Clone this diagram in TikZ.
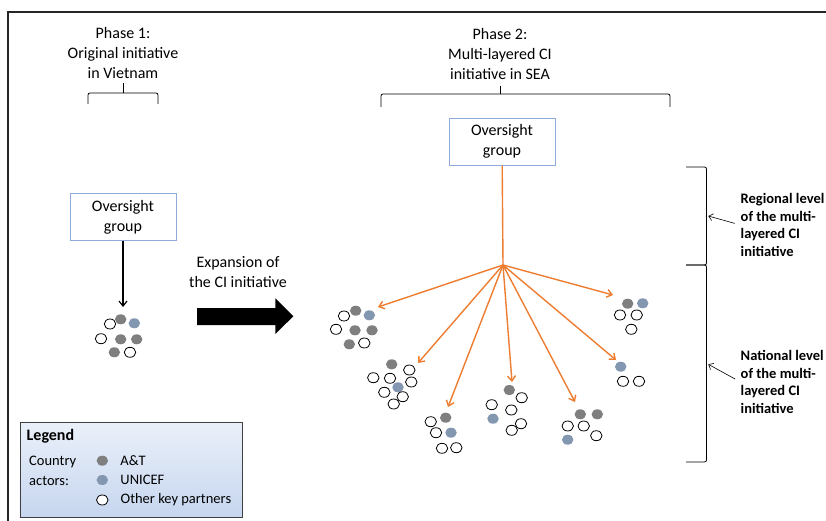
\documentclass[tikz,border=0pt]{standalone}
\usepackage{fontspec}
\setmainfont{Carlito}
\usetikzlibrary{arrows.meta,positioning,shapes.geometric}

\definecolor{atgrey}{HTML}{7F7F7F}
\definecolor{unicefblue}{HTML}{8497B0}
\definecolor{spokeorange}{HTML}{ED7D31}
\definecolor{boxblue}{HTML}{8EAADB}
\definecolor{legendtop}{HTML}{EAF0F9}
\definecolor{legendbottom}{HTML}{C6D6EF}

\begin{document}
\begin{tikzpicture}[x=1pt, y=-1pt,
    actor/.style={ellipse, inner sep=0pt, minimum width=11.5pt, minimum height=10pt},
    aandt/.style={actor, fill=atgrey},
    unicef/.style={actor, fill=unicefblue},
    partner/.style={actor, draw=black, line width=0.8pt, fill=white},
    oversight/.style={draw=boxblue, line width=1pt, minimum width=106pt,
                      minimum height=47pt, align=center, font=\fontsize{16}{20}\selectfont},
    phasetext/.style={align=center, font=\fontsize{16}{20}\selectfont},
    leveltext/.style={align=left, anchor=west, inner sep=0pt,
                      font=\bfseries\fontsize{14.5}{17.5}\selectfont},
    legendtext/.style={inner sep=0pt, font=\fontsize{14.5}{19.5}\selectfont},
    link/.style={-{Straight Barb[length=5pt,width=8pt]}, line width=1.2pt},
    spoke/.style={link, draw=spokeorange, line width=1.4pt},
    pointer/.style={-{Straight Barb[length=4pt,width=7pt]}, line width=0.6pt},
    bracket/.style={line width=0.8pt, rounded corners=2pt}]

  \useasboundingbox (0,0) rectangle (826,521);
  \draw[line width=1.3pt, black!85] (8,521) -- (8,12) -- (826,12);

  % phase headings and brackets
  \node[phasetext] (phase1) at (123,53) {Phase 1:\\Original initiative\\in Vietnam};
  \node[phasetext] (phase2) at (500,54) {Phase 2:\\Multi-layered CI\\initiative in SEA};
  \coordinate (br1) at (123,93);
  \coordinate (br2) at (500,94);
  \draw[bracket] (88,104) -- (88,93) -- (158,93) -- (158,104);
  \draw[line width=0.8pt] (br1) -- ++(0,-10);
  \draw[bracket] (381,107) -- (381,94) -- (670,94) -- (670,107);
  \draw[line width=0.8pt] (br2) -- ++(0,-8);

  % phase 1
  \node[oversight] (og1) at (123,217) {\raisebox{-2pt}{Oversight}\\\raisebox{-2pt}{group}};
  \coordinate (p1) at (123,307);
  \path (og1) edge [link] (p1);
  \foreach \x/\y/\s [count=\i] in {120.7/319.3/aandt, 110/324/partner, 134.3/323.3/unicef,
      101/338.7/partner, 120.7/339.3/aandt, 136.7/339.3/aandt, 114.3/352.3/aandt, 130/352.3/partner}
    \node[\s] (c0-\i) at (\x,\y) {};

  % expansion
  \node[phasetext] (expand) at (238,272) {Expansion of\\the CI initiative};
  \fill (197,308) -- (275.3,308) -- (275.3,298.3) -- (293.3,316.3) -- (275.3,334)
        -- (275.3,325) -- (197,325) -- cycle;

  % phase 2
  \node[oversight] (og2) at (502,141.7) {\raisebox{-2pt}{Oversight}\\\raisebox{-2pt}{group}};
  \coordinate (hub) at (503,265);
  \coordinate (t1) at (378,307);
  \coordinate (t2) at (418,363);
  \coordinate (t3) at (448,407);
  \coordinate (t4) at (512,382);
  \coordinate (t5) at (575,402);
  \coordinate (t6) at (616,360);
  \coordinate (t7) at (613,295);
  \draw[spokeorange, line width=1.4pt] (og2) -- (hub);
  \path (hub) edge [spoke] (t1)
              edge [spoke] (t2)
              edge [spoke] (t3)
              edge [spoke] (t4)
              edge [spoke] (t5)
              edge [spoke] (t6)
              edge [spoke] (t7);

  \foreach \x/\y/\s [count=\i] in {355.7/310.7/aandt, 369.3/315.3/unicef, 344/316/partner,
      336/329.3/partner, 355/330.3/aandt, 372/330.3/aandt, 349.3/344.3/aandt, 364.3/343/partner}
    \node[\s] (c1-\i) at (\x,\y) {};
  \foreach \x/\y/\s [count=\i] in {391.7/364.3/aandt, 409.3/370/partner, 373.3/377.7/partner,
      390/378.3/partner, 411.3/382/partner, 398/387.3/unicef, 384.3/392.3/partner,
      402.7/396.7/partner, 393.7/404/partner}
    \node[\s] (c2-\i) at (\x,\y) {};
  \foreach \x/\y/\s [count=\i] in {445.7/417.7/aandt, 430.7/421.7/partner, 436/432.7/partner,
      451/432.7/unicef, 442/448.3/partner, 456.3/447.7/partner}
    \node[\s] (c3-\i) at (\x,\y) {};
  \foreach \x/\y/\s [count=\i] in {509.3/390/aandt, 521.7/397.7/partner, 491.7/404.7/partner,
      511.3/410/partner, 493/418.7/unicef, 521/423.7/partner, 511.7/430.3/partner}
    \node[\s] (c4-\i) at (\x,\y) {};
  \foreach \x/\y/\s [count=\i] in {580.3/414.3/aandt, 597.3/414.3/aandt, 567.7/426/partner,
      583.7/426/partner, 596.3/435.7/partner, 567.7/439.7/unicef}
    \node[\s] (c5-\i) at (\x,\y) {};
  \foreach \x/\y/\s [count=\i] in {620.7/366.7/unicef, 623/381.3/partner, 639/381.3/partner}
    \node[\s] (c6-\i) at (\x,\y) {};
  \foreach \x/\y/\s [count=\i] in {627.7/303.7/aandt, 642.7/303.3/unicef, 620/315/partner,
      636.7/315/partner, 631.3/329.3/partner}
    \node[\s] (c7-\i) at (\x,\y) {};

  % levels
  \draw[bracket] (686,167) -- (706.5,167) -- (706.5,265) -- (686,265);
  \draw[bracket] (686,265) -- (706.5,265) -- (706.5,462) -- (686,462);
  \node[leveltext] (regional) at (740.5,225) {Regional level\\of the multi-\\layered CI\\initiative};
  \node[leveltext] (national) at (740.5,382) {National level\\of the multi-\\layered CI\\initiative};
  \coordinate (regbr) at (708.3,216);
  \coordinate (natbr) at (708.3,364.3);
  \path (regional.west) edge [pointer, shorten <=6pt] (regbr)
        (national.west) edge [pointer, shorten <=6pt] (natbr);

  % legend
  \node[draw=black!75, line width=0.8pt, top color=legendtop, bottom color=legendbottom,
        minimum width=222.7pt, minimum height=94.6pt] (legend) at (131.3,470) {};
  \node[anchor=west, inner sep=0pt, font=\bfseries\fontsize{16}{19}\selectfont] (lgtitle)
        at (26.5,436) {Legend};
  \node[legendtext, anchor=west, align=left] (lgactors) at (29,471) {Country\\actors:};
  \node[aandt]   (lgAT)      at (102.3,460.7) {};
  \node[unicef]  (lgUNICEF)  at (102.3,480) {};
  \node[partner] (lgPartner) at (102.3,500) {};
  \node[legendtext, right=12pt of lgAT]      {A\&T};
  \node[legendtext, right=12pt of lgUNICEF]  {UNICEF};
  \node[legendtext, right=12pt of lgPartner] {Other key partners};
\end{tikzpicture}
\end{document}
